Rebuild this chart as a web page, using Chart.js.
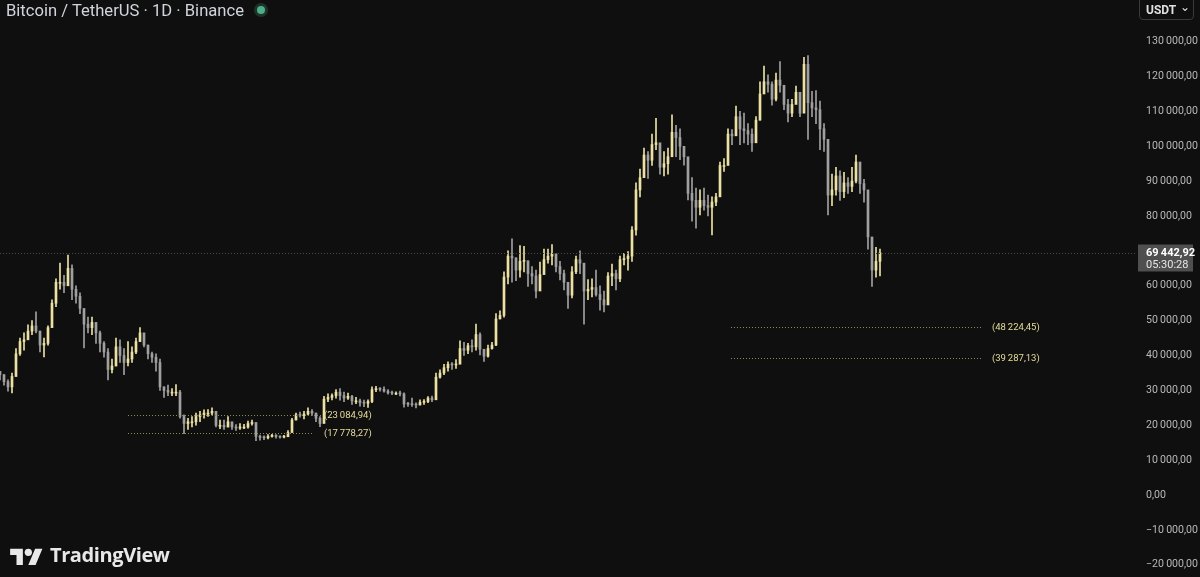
<!DOCTYPE html>
<html>
<head>
<meta charset="utf-8">
<script src="https://cdn.jsdelivr.net/npm/chart.js@4.4.1/dist/chart.umd.min.js"></script>
<style>
    html, body { margin: 0; padding: 0; background: #0f0f0f; overflow: hidden; }
    #wrap { position: relative; width: 1200px; height: 577px; }
    #title { position: absolute; left: 6px; top: 0; font: 16.6px Roboto, sans-serif; color: #d1d4dc; line-height: 21px; white-space: nowrap; }
    #dot { position: absolute; left: 254px; top: 3px; width: 14px; height: 14px; border-radius: 50%; background: #1c3329; }
    #dot::after { content: ''; position: absolute; left: 3px; top: 3px; width: 8px; height: 8px; border-radius: 50%; background: #4fae89; }
    #cur { position: absolute; left: 1139px; top: -4px; width: 55px; height: 24px; border: 1px solid #3a3a3a; border-radius: 4px; box-sizing: border-box; font: bold 12px Roboto, sans-serif; color: #e0e0e0; }
    #cur span { position: absolute; top: 6px; }
    #logo { position: absolute; left: 10px; top: 541px; display: flex; align-items: center; color: #e8e8e8; font: bold 20px "Open Sans", Roboto, sans-serif; letter-spacing: -0.4px; }
    #logo svg { margin-right: 7px; }
</style>
</head>
<body>
<div id="wrap">
    <canvas id="myChart"></canvas>
    <div id="title">Bitcoin / TetherUS · 1D · Binance</div>
    <div id="dot"></div>
    <div id="cur"><span style="left:6px">USDT</span><span style="left:40px;top:3px;font-weight:normal">⌄</span></div>
    <div id="logo">
        <svg width="33" height="20" viewBox="0 0 36 22"><path fill="#e8e8e8" d="M14 22H7V11H0V4h14v18zM28 22h-8l7.5-18h8L28 22z"/><circle fill="#e8e8e8" cx="20" cy="8" r="4"/></svg>
        TradingView
    </div>
</div>
<script>
// 1D candles, sampled about one per week (values in thousands of USDT)
const firstOpen = 35.5;
const closes = [
    34.5, 32.5, 31, 34, 40.5, 44, 44.5, 47, 48.5, 47,
    43, 43.5, 48, 55, 61, 61, 60, 65, 59, 57,
    53.5, 49, 48, 49.5, 46.5, 43.5, 41, 36, 37, 42.5,
    40, 38, 39, 41, 44, 46.5, 43, 40.5, 39.5, 38,
    31, 30, 29.5, 29.5, 29.5, 22.5, 20.5, 21, 21, 22.5,
    23, 23.5, 23.5, 24, 20, 20, 19.5, 21, 19.5, 19.2,
    19.5, 19.5, 20.5, 20.8, 16.8, 16.5, 16.4, 16.8, 17.1, 16.8,
    16.6, 16.7, 17.9, 21.5, 23, 22.8, 23.2, 24, 23.5, 22,
    20.5, 27.5, 28, 28.5, 29.5, 28.5, 27.8, 28.3, 27, 27,
    26.5, 26.3, 26.8, 30.2, 30.4, 30.3, 29.8, 29.3, 29.2, 29.2,
    29.0, 26.1, 26.0, 25.9, 25.8, 26.6, 26.8, 27.8, 27.3, 33.8,
    35, 36.5, 37.5, 37.3, 37.5, 42, 41.5, 42.8, 42.5, 46,
    41.8, 39.8, 42, 43, 50.5, 51.5, 62.5, 68.5, 68, 64.5,
    67, 67.2, 63.5, 62.8, 58.5, 63.2, 67.5, 68.5, 69.2, 65.5,
    63.5, 61, 57.3, 64, 67.5, 66.5, 58.5, 59, 59.5, 57.5,
    56, 54.5, 62.8, 63.5, 62, 67.5, 67.8, 68.5, 76, 87.5,
    91, 97.5, 96, 100.5, 101, 94, 95, 97, 104, 102.5,
    100, 97, 86.5, 84.5, 82.5, 84.5, 83, 82.5, 84, 85.5,
    94.5, 94.5, 103.5, 103, 108.5, 105, 104.5, 103.5, 101, 107.5,
    115, 118.5, 117.8, 113.5, 119, 117.5, 112, 109.5, 112, 115.5,
    109.5, 123.5, 112.5, 111, 110.5, 105, 102, 86, 87.5, 91.5,
    87, 89.5, 88.5, 90, 95.5, 89.3, 87.5, 74, 64.5, 67,
    69.44292,
];
const highs = [
    35.5, 34.5, 33, 35, 42, 45, 46.5, 48.8, 50, 52.5,
    47, 45, 48.5, 56, 62, 66.5, 63, 68.8, 66, 60,
    58, 53, 51, 51, 49, 47, 44, 42, 39, 45,
    44.5, 42, 44, 42.5, 45, 48, 46, 43, 41, 40.5,
    39, 31, 31.5, 30.5, 31.7, 30, 23, 22, 22.5, 23.5,
    24, 24.4, 24.5, 25, 24, 21.5, 21.5, 22.5, 20.5, 20.2,
    20.5, 20.3, 21.2, 21.5, 20.7, 17.2, 17.0, 17.3, 17.4, 17.3,
    17.0, 17.1, 18.5, 22, 23.5, 23.8, 24, 25, 24.5, 23.5,
    22.5, 28.3, 29, 29, 30.2, 30.5, 29.5, 29.2, 28.6, 28,
    27.5, 27.2, 27.3, 31, 31.2, 30.8, 31, 30.2, 29.8, 29.6,
    29.8, 29.3, 26.6, 27.8, 26.4, 27.3, 27.4, 28.2, 28.4, 35,
    35.9, 37.5, 38.2, 38, 38.8, 44.2, 43.8, 43.5, 44.5, 49,
    46.5, 41.8, 43, 43.8, 52, 52.8, 64, 70, 73.5, 68,
    71.5, 71.3, 66, 65.5, 64.5, 66.8, 70.5, 70.5, 71.8, 69,
    67, 64.5, 61, 65.5, 68.5, 70, 65, 61.8, 62, 64.5,
    60, 58.5, 63.8, 66.2, 64.5, 68.5, 69.3, 69.8, 77, 89.5,
    93.5, 99.5, 98.5, 103.5, 108, 100.5, 98.5, 99.5, 109, 106,
    105, 100, 96.5, 91, 88, 87.5, 88, 86, 85.5, 86.5,
    95.5, 96.5, 105, 104.8, 111.5, 110, 109.5, 106.5, 105, 108.5,
    118.5, 123, 120.5, 118.5, 121, 124.3, 117, 113.5, 113.5, 117.3,
    114, 125.5, 126, 115.8, 116, 113, 106.5, 99, 92, 94,
    93, 92.5, 91, 94, 97.5, 93, 90.5, 86, 72, 71,
    70.5,
];
const lows = [
    33, 31.5, 29.8, 29.3, 34, 40, 41.5, 45, 46, 46.5,
    41, 39.6, 43, 48, 54, 59, 58, 60, 56, 55,
    52, 42.2, 46.5, 46, 43.5, 41, 39.5, 33, 35, 37,
    38, 34.5, 37, 38, 40.5, 44, 42.5, 39, 38, 35.5,
    30, 28, 28.5, 28.5, 28.5, 22, 17.6, 18.8, 19.5, 20,
    21, 22, 22.5, 23, 19.5, 19, 18.8, 19.5, 18.8, 18.5,
    18.8, 19, 19.2, 20, 15.6, 15.7, 15.9, 16.1, 16.6, 16.3,
    16.3, 16.4, 16.8, 18.5, 21.5, 22.3, 21.8, 23, 22.8, 21,
    19.6, 21, 26.8, 27.3, 27.8, 27.2, 26.8, 27.4, 26, 26.2,
    25.5, 25.3, 25.1, 26.5, 29.6, 29.8, 29.5, 28.9, 28.8, 28.8,
    28.4, 25.2, 25.4, 25.4, 25.0, 25.8, 26, 26.5, 26.8, 27.5,
    33.5, 34.5, 35.5, 36, 36.3, 38.5, 40, 40.5, 41, 41.5,
    40.2, 38.3, 39.5, 41.8, 42.8, 50.5, 51, 60.5, 61, 61.5,
    62.5, 64, 59.8, 60.5, 56.5, 60.3, 64.5, 66.5, 66, 64,
    61.7, 58.8, 53.5, 56.5, 63.5, 63.5, 49, 56, 56.8, 57,
    53, 52.5, 56.8, 60, 58.8, 61.2, 66, 64.5, 67, 74.5,
    85.5, 91, 90.8, 94.5, 99, 92, 91.5, 92, 99, 97,
    96.2, 94.6, 84.6, 78.5, 76.5, 80.3, 81.7, 80, 74.6, 83,
    86, 92.8, 95.5, 100.5, 103.3, 100.5, 101, 100.5, 98.5, 103.5,
    107.5, 115.8, 115.5, 111.8, 113, 115.5, 110.5, 107, 108.5, 112.5,
    108.5, 111.5, 102, 108.5, 106.5, 99, 98.5, 80.3, 83, 86,
    84.5, 85.3, 86.5, 87, 89.5, 86.5, 84, 70.5, 59.8, 62.5,
    62.8,
];

// price scale ticks (70 000 is hidden under the last price label)
const tickValues = [-20000, -10000, 0, 10000, 20000, 30000, 40000, 50000, 60000,
    80000, 90000, 100000, 110000, 120000, 130000];

// horizontal levels drawn on the chart: price, start / end sample, label sample
const levelPrices = [23084.94, 17778.27, 48224.45, 39287.13];
const levelFrom = [32, 32, 182.75, 182.75];
const levelTo = [80.5, 78.2, 245.5, 245.5];
const levelLabelAt = [81, 81, 248, 248];

const lastTime = '05:30:28';

const UP = '#ebe1a2';
const DOWN = '#a0a0a0';

const fmtPrice = (v) => {
    const parts = Math.abs(v).toFixed(2).split('.');
    const int = parts[0].replace(/\B(?=(\d{3})+(?!\d))/g, '\u2009');
    return (v < 0 ? '\u2212' : '') + int + ',' + parts[1];
};

const main = () => {
    const opens = closes.map((c, i) => (i === 0 ? firstOpen : closes[i - 1]));
    const colors = closes.map((c, i) => (c >= opens[i] ? UP : DOWN));

    const bodyData = closes.map((c, i) => ({ x: i, y: [opens[i] * 1000, c * 1000] }));
    const wickData = closes.map((c, i) => ({ x: i, y: [lows[i] * 1000, highs[i] * 1000] }));

    const overlay = {
        id: 'overlay',
        afterDatasetsDraw(chart) {
            const ctx = chart.ctx;
            const xs = chart.scales.x;
            const ys = chart.scales.y;
            const area = chart.chartArea;

            ctx.save();
            // level lines
            ctx.setLineDash([1, 2]);
            ctx.lineWidth = 1;
            ctx.font = '9.5px Roboto, sans-serif';
            ctx.textBaseline = 'middle';
            levelPrices.forEach((p, i) => {
                const y = Math.round(ys.getPixelForValue(p)) + 0.5;
                ctx.strokeStyle = '#8c875c';
                ctx.beginPath();
                ctx.moveTo(xs.getPixelForValue(levelFrom[i]), y);
                ctx.lineTo(xs.getPixelForValue(levelTo[i]), y);
                ctx.stroke();
                ctx.fillStyle = '#e6dc9c';
                ctx.fillText('(' + fmtPrice(p) + ')', xs.getPixelForValue(levelLabelAt[i]), y);
            });

            // last price line
            const last = closes[closes.length - 1] * 1000;
            const ly = Math.round(ys.getPixelForValue(last)) + 0.5;
            ctx.strokeStyle = '#4a4a4a';
            ctx.beginPath();
            ctx.moveTo(area.left, ly);
            ctx.lineTo(area.right, ly);
            ctx.stroke();
            ctx.setLineDash([]);

            // last price label on the axis
            ctx.fillStyle = '#4f4f4f';
            ctx.fillRect(area.right + 3, ly - 9, 55, 27);
            ctx.fillStyle = '#ffffff';
            ctx.font = 'bold 11px Roboto, sans-serif';
            ctx.textAlign = 'left';
            ctx.fillText(fmtPrice(last), area.right + 11, ly);
            ctx.font = '11px Roboto, sans-serif';
            ctx.fillStyle = '#e6e6e6';
            ctx.fillText(lastTime, area.right + 11, ly + 12);
            ctx.restore();
        },
    };

    const config = {
        type: 'bar',
        data: {
            datasets: [
                {
                    data: bodyData,
                    backgroundColor: colors,
                    barThickness: 2,
                    minBarLength: 1,
                    grouped: false,
                },
                {
                    data: wickData,
                    backgroundColor: colors,
                    barThickness: 1,
                    grouped: false,
                },
            ],
        },
        options: {
            responsive: true,
            maintainAspectRatio: false,
            animation: false,
            layout: { padding: 0 },
            plugins: {
                legend: { display: false },
                tooltip: { enabled: false },
            },
            scales: {
                x: {
                    type: 'linear',
                    display: false,
                    offset: false,
                    grid: { offset: false },
                    min: 0,
                    max: 283.75,
                },
                y: {
                    position: 'right',
                    min: -23516,
                    max: 141956,
                    grid: { display: false, drawTicks: false },
                    border: { display: false },
                    ticks: {
                        autoSkip: false,
                        padding: 11,
                        color: '#b8b8b8',
                        font: { family: 'Roboto', size: 10.6 },
                        callback: (v) => fmtPrice(v),
                    },
                    afterBuildTicks: (scale) => {
                        scale.ticks = tickValues.map((v) => ({ value: v }));
                    },
                    afterFit: (scale) => {
                        scale.width = 65;
                        scale.paddingTop = 0;
                        scale.paddingBottom = 0;
                    },
                },
            },
        },
        plugins: [overlay],
    };

    new Chart(document.getElementById('myChart'), config);
};

main();
</script>
</body>
</html>
